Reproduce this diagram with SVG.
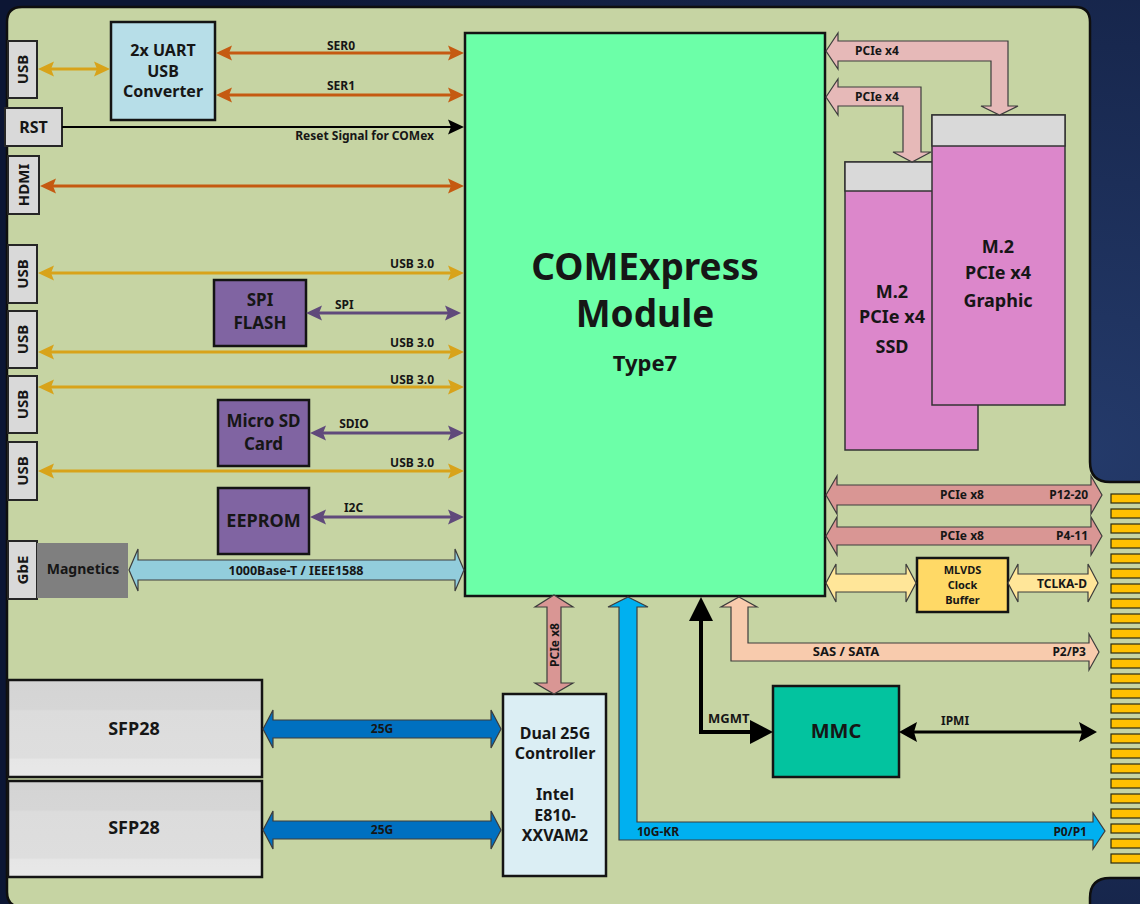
<svg xmlns="http://www.w3.org/2000/svg" width="1140" height="904" viewBox="0 0 1140 904">
<defs>
<style>
text { font-family: "Noto Sans", "Open Sans", "DejaVu Sans", sans-serif; font-weight: bold; fill: #161616; }
.box { stroke: #141414; stroke-width: 2.5; }
.conn { fill: #d9d9d9; stroke: #262626; stroke-width: 2; }
.blk { stroke: #3c3c3c; stroke-width: 1.2; stroke-linejoin: miter; }
.m2 { fill: #dc87cb; stroke: #333; stroke-width: 1.5; }
.m2top { fill: #d9d9d9; stroke: #333; stroke-width: 1.5; }
.pin { fill: #ffc000; stroke: #2b2b10; stroke-width: 1.2; }
.purple { fill: #8064a2; }
.gold { stroke: #d8a31a; stroke-width: 3; fill: none; }
.brown { stroke: #c55a11; stroke-width: 3; fill: none; }
.vio { stroke: #604a7b; stroke-width: 3; fill: none; }
.mid { text-anchor: middle; }
.end { text-anchor: end; }
.s11 { font-size: 11px; }
.s12 { font-size: 12px; }
.s13 { font-size: 13px; }
.s15 { font-size: 15px; }
.s16 { font-size: 16px; }
.s17 { font-size: 17px; }
.s18 { font-size: 18px; }
</style>
<radialGradient id="bg" cx="0.95" cy="0.5" r="0.9">
<stop offset="0" stop-color="#243a6a"/>
<stop offset="1" stop-color="#0c1634"/>
</radialGradient>
<linearGradient id="sfp" x1="0" y1="0" x2="0" y2="1">
<stop offset="0" stop-color="#d4d4d4"/>
<stop offset="0.3" stop-color="#d6d6d6"/>
<stop offset="0.32" stop-color="#dcdcdc"/>
<stop offset="0.8" stop-color="#dedede"/>
<stop offset="0.82" stop-color="#e6e6e6"/>
<stop offset="1" stop-color="#e8e8e8"/>
</linearGradient>
<marker id="aGold" viewBox="0 0 16 16" refX="11" refY="8" markerWidth="16" markerHeight="16" markerUnits="userSpaceOnUse" orient="auto-start-reverse"><path d="M0,0.5 L16,8 L0,15.5 L3,8 z" fill="#d8a31a"/></marker>
<marker id="aBrown" viewBox="0 0 16 16" refX="11" refY="8" markerWidth="16" markerHeight="16" markerUnits="userSpaceOnUse" orient="auto-start-reverse"><path d="M0,0.5 L16,8 L0,15.5 L3,8 z" fill="#c55a11"/></marker>
<marker id="aVio" viewBox="0 0 16 16" refX="11" refY="8" markerWidth="16" markerHeight="16" markerUnits="userSpaceOnUse" orient="auto-start-reverse"><path d="M0,0.5 L16,8 L0,15.5 L3,8 z" fill="#604a7b"/></marker>
<marker id="aBlack" viewBox="0 0 16 16" refX="11" refY="8" markerWidth="16" markerHeight="16" markerUnits="userSpaceOnUse" orient="auto-start-reverse"><path d="M0,0.5 L16,8 L0,15.5 L3,8 z" fill="#000"/></marker>
<marker id="aBlackL" viewBox="0 0 18 20" refX="13" refY="10" markerWidth="18" markerHeight="20" markerUnits="userSpaceOnUse" orient="auto-start-reverse"><path d="M0,0 L18,10 L0,20 L3,10 z" fill="#000"/></marker>
</defs>

<rect width="1140" height="904" fill="url(#bg)"/>
<g id="board">
<path d="M7,22 Q7,7 22,7 H1075 Q1090,7 1090,22 V462 Q1090,482 1110,482 H1143 V878 H1110 Q1090,878 1090,898 V907 H22 Q7,907 7,892 Z" fill="#c6d4a3" stroke="#0e0e0e" stroke-width="2.5"/>
</g>

<g id="edge-pins">
<rect class="pin" x="1111" y="494" width="32" height="9"/>
<rect class="pin" x="1111" y="509" width="32" height="9"/>
<rect class="pin" x="1111" y="524" width="32" height="9"/>
<rect class="pin" x="1111" y="539" width="32" height="9"/>
<rect class="pin" x="1111" y="554" width="32" height="9"/>
<rect class="pin" x="1111" y="569" width="32" height="9"/>
<rect class="pin" x="1111" y="584" width="32" height="9"/>
<rect class="pin" x="1111" y="599" width="32" height="9"/>
<rect class="pin" x="1111" y="614" width="32" height="9"/>
<rect class="pin" x="1111" y="629" width="32" height="9"/>
<rect class="pin" x="1111" y="644" width="32" height="9"/>
<rect class="pin" x="1111" y="659" width="32" height="9"/>
<rect class="pin" x="1111" y="674" width="32" height="9"/>
<rect class="pin" x="1111" y="689" width="32" height="9"/>
<rect class="pin" x="1111" y="704" width="32" height="9"/>
<rect class="pin" x="1111" y="719" width="32" height="9"/>
<rect class="pin" x="1111" y="734" width="32" height="9"/>
<rect class="pin" x="1111" y="749" width="32" height="9"/>
<rect class="pin" x="1111" y="764" width="32" height="9"/>
<rect class="pin" x="1111" y="779" width="32" height="9"/>
<rect class="pin" x="1111" y="794" width="32" height="9"/>
<rect class="pin" x="1111" y="809" width="32" height="9"/>
<rect class="pin" x="1111" y="824" width="32" height="9"/>
<rect class="pin" x="1111" y="839" width="32" height="9"/>
<rect class="pin" x="1111" y="854" width="32" height="9"/>
</g>

<!-- Nodes -->
<g id="usb-1"><rect class="conn" x="8" y="41" width="29" height="57"/><text class="s15 mid" transform="translate(27.5,69.5) rotate(-90)">USB</text></g>
<g id="rst"><rect class="conn" x="5" y="108" width="57" height="38"/><text class="s16 mid" x="33.5" y="133">RST</text></g>
<g id="hdmi"><rect class="conn" x="8" y="156" width="31" height="58"/><text class="s15 mid" transform="translate(29,185) rotate(-90)">HDMI</text></g>
<g id="usb-2"><rect class="conn" x="8" y="245" width="29" height="58"/><text class="s15 mid" transform="translate(27.5,274) rotate(-90)">USB</text></g>
<g id="usb-3"><rect class="conn" x="8" y="311" width="29" height="57"/><text class="s15 mid" transform="translate(27.5,339.5) rotate(-90)">USB</text></g>
<g id="usb-4"><rect class="conn" x="8" y="376" width="29" height="57"/><text class="s15 mid" transform="translate(27.5,404.5) rotate(-90)">USB</text></g>
<g id="usb-5"><rect class="conn" x="8" y="442" width="29" height="58"/><text class="s15 mid" transform="translate(27.5,471) rotate(-90)">USB</text></g>
<g id="gbe"><rect class="conn" x="8" y="541" width="29" height="58"/><text class="s15 mid" transform="translate(27.5,570) rotate(-90)">GbE</text></g>
<g id="magnetics"><rect x="37" y="543" width="91" height="55" fill="#7f7f7f"/><text class="mid" font-size="14" x="83" y="574">Magnetics</text></g>

<g id="uart"><rect class="box" x="111" y="22" width="104" height="98" fill="#b7dee8"/>
<text class="s16 mid" x="163" y="56">2x UART</text><text class="s16 mid" x="163" y="76.5">USB</text><text class="s16 mid" x="163" y="97">Converter</text></g>

<g id="spi-flash"><rect class="box purple" x="214" y="280" width="92" height="66"/>
<text class="s17 mid" x="260" y="306">SPI</text><text class="s17 mid" x="260" y="329">FLASH</text></g>
<g id="micro-sd"><rect class="box purple" x="218" y="400" width="91" height="66"/>
<text class="s17 mid" x="263.5" y="427">Micro SD</text><text class="s17 mid" x="263.5" y="450">Card</text></g>
<g id="eeprom"><rect class="box purple" x="218" y="488" width="91" height="66"/>
<text class="s18 mid" x="263.5" y="527">EEPROM</text></g>

<g id="comexpress"><rect class="box" x="465" y="33" width="360" height="563" fill="#6cffa8"/>
<text class="mid" font-size="37" x="645" y="280">COMExpress</text>
<text class="mid" font-size="37" x="645" y="327">Module</text>
<text class="mid" font-size="22" x="645" y="371">Type7</text></g>

<g id="m2-ssd"><rect class="m2" x="845" y="162" width="133" height="288"/><rect class="m2top" x="845" y="162" width="133" height="29"/>
<text class="s18 mid" x="892" y="298">M.2</text><text class="s18 mid" x="892" y="323">PCIe x4</text><text class="s18 mid" x="892" y="353">SSD</text></g>
<g id="m2-graphic"><rect class="m2" x="932" y="115" width="133" height="290"/><rect class="m2top" x="932" y="115" width="133" height="31"/>
<text class="s18 mid" x="998" y="253">M.2</text><text class="s18 mid" x="998" y="279">PCIe x4</text><text class="s18 mid" x="998" y="307">Graphic</text></g>

<g id="mlvds"><rect class="box" x="917" y="558" width="91" height="54" fill="#ffd966"/>
<text class="s11 mid" x="962.5" y="573.5">MLVDS</text><text class="s11 mid" x="962.5" y="589">Clock</text><text class="s11 mid" x="962.5" y="604">Buffer</text></g>

<g id="mmc"><rect class="box" x="773" y="686" width="126" height="91" fill="#03c39f"/>
<text class="mid" font-size="20" x="836" y="738">MMC</text></g>

<g id="dual25g"><rect class="box" x="503" y="694" width="103" height="182" fill="#dbeef4"/>
<text class="s16 mid" x="555" y="739">Dual 25G</text><text class="s16 mid" x="555" y="759">Controller</text>
<text class="s16 mid" x="555" y="800">Intel</text><text class="s16 mid" x="555" y="821">E810-</text><text class="s16 mid" x="555" y="841">XXVAM2</text></g>

<g id="sfp28-1"><rect x="8" y="680" width="254" height="97" fill="url(#sfp)" stroke="#141414" stroke-width="2.5"/><text class="s18 mid" x="134" y="735">SFP28</text></g>
<g id="sfp28-2"><rect x="8" y="781" width="254" height="96" fill="url(#sfp)" stroke="#141414" stroke-width="2.5"/><text class="s18 mid" x="134" y="834">SFP28</text></g>

<!-- Connectors -->
<g id="connectors">
<line class="gold" x1="43" y1="69" x2="105" y2="69" marker-start="url(#aGold)" marker-end="url(#aGold)"/>
<line class="brown" x1="221" y1="53" x2="459" y2="53" marker-start="url(#aBrown)" marker-end="url(#aBrown)"/>
<line class="brown" x1="221" y1="95" x2="459" y2="95" marker-start="url(#aBrown)" marker-end="url(#aBrown)"/>
<line x1="62" y1="127" x2="459" y2="127" stroke="#000" stroke-width="2" marker-end="url(#aBlack)"/>
<line class="brown" x1="45" y1="186" x2="459" y2="186" marker-start="url(#aBrown)" marker-end="url(#aBrown)"/>
<line class="gold" x1="43" y1="273" x2="459" y2="273" marker-start="url(#aGold)" marker-end="url(#aGold)"/>
<line class="vio" x1="311" y1="313" x2="456" y2="313" marker-start="url(#aVio)" marker-end="url(#aVio)"/>
<line class="gold" x1="43" y1="352" x2="459" y2="352" marker-start="url(#aGold)" marker-end="url(#aGold)"/>
<line class="gold" x1="43" y1="387" x2="459" y2="387" marker-start="url(#aGold)" marker-end="url(#aGold)"/>
<line class="vio" x1="315" y1="433" x2="459" y2="433" marker-start="url(#aVio)" marker-end="url(#aVio)"/>
<line class="gold" x1="43" y1="471" x2="459" y2="471" marker-start="url(#aGold)" marker-end="url(#aGold)"/>
<line class="vio" x1="315" y1="517" x2="459" y2="517" marker-start="url(#aVio)" marker-end="url(#aVio)"/>
<polygon class="blk" fill="#92cddc" points="129,570 138,549 138,560 455,560 455,549 464,570 455,591 455,580 138,580 138,591"/>

<polygon class="blk" fill="#e6b9b8" points="826,51 838,33 838,41 1008,41 1008,106 1018,106 999.5,115 981,106 991,106 991,61 838,61 838,69"/>
<polygon class="blk" fill="#e6b9b8" points="826,97 838,79 838,87 921,87 921,152 931,152 912,162 893,152 903,152 903,106 838,106 838,115"/>

<polygon class="blk" fill="#d99694" points="826,495 837,476 837,485 1091,485 1091,476 1102,495 1091,514 1091,505 837,505 837,514"/>
<polygon class="blk" fill="#d99694" points="826,536 837,517 837,527 1091,527 1091,517 1102,536 1091,555 1091,545 837,545 837,555"/>
<polygon class="blk" fill="#ffe699" points="826,583 836,564 836,574 906,574 906,564 916,583 906,602 906,592 836,592 836,602"/>
<polygon class="blk" fill="#ffe699" points="1008,583 1018,564 1018,574 1088,574 1088,564 1098,583 1088,602 1088,592 1018,592 1018,602"/>
<polygon class="blk" fill="#f8cbad" points="739,597 757,607 748,607 748,643 1089,643 1089,634 1099,652 1089,670 1089,661 731,661 731,607 721,607"/>

<polygon class="blk" fill="#d99694" points="554,595 573,607 561,607 561,683 573,683 554,694 535,683 547,683 547,607 535,607"/>
<polygon class="blk" fill="#00b0f0" points="628,597 648,607 637,607 637,822 1093,822 1093,813 1105,831 1093,849 1093,840 619,840 619,607 608,607"/>

<polygon class="blk" fill="#0070c0" points="263,729 273,710 273,720 491,720 491,710 501,729 491,748 491,738 273,738 273,748"/>
<polygon class="blk" fill="#0070c0" points="263,830 273,811 273,821 491,821 491,811 501,830 491,849 491,839 273,839 273,849"/>

<path d="M701,616 V732 H754" fill="none" stroke="#000" stroke-width="4"/>
<polygon points="701,597 713,621 689,621" fill="#000"/>
<polygon points="773,732 750,720 750,744" fill="#000"/>
<line x1="904" y1="732" x2="1092" y2="732" stroke="#000" stroke-width="3" marker-start="url(#aBlackL)" marker-end="url(#aBlackL)"/>

<text class="s12 mid" x="341" y="50">SER0</text>
<text class="s12 mid" x="341" y="90">SER1</text>
<text class="s12 end" x="434" y="140">Reset Signal for COMex</text>
<text class="s12 end" x="434" y="268">USB 3.0</text>
<text class="s12" x="335" y="309">SPI</text>
<text class="s12 end" x="434" y="347">USB 3.0</text>
<text class="s12 end" x="434" y="384">USB 3.0</text>
<text class="s12 mid" x="354" y="428">SDIO</text>
<text class="s12 end" x="434" y="467">USB 3.0</text>
<text class="s12 mid" x="353.5" y="512">I2C</text>
<text class="mid" font-size="12.5" x="296" y="575">1000Base-T / IEEE1588</text>
<text class="s12" x="855" y="55">PCIe x4</text>
<text class="s12" x="855" y="101">PCIe x4</text>
<text class="s12 mid" x="962" y="499">PCIe x8</text>
<text class="s12 end" x="1088" y="499">P12-20</text>
<text class="s12 mid" x="962" y="540">PCIe x8</text>
<text class="s12 end" x="1088" y="540">P4-11</text>
<text class="s12 end" x="1087" y="588">TCLKA-D</text>
<text class="s13 mid" x="846" y="656">SAS / SATA</text>
<text class="s12 end" x="1086" y="656">P2/P3</text>
<text class="s12 mid" transform="translate(558.5,645) rotate(-90)">PCIe x8</text>
<text class="s13" x="708" y="723">MGMT</text>
<text class="s12" x="941" y="725">IPMI</text>
<text class="s12" x="637" y="836">10G-KR</text>
<text class="s12 end" x="1087" y="836">P0/P1</text>
<text class="s12 mid" x="382" y="733">25G</text>
<text class="s12 mid" x="382" y="834">25G</text>
</g>
</svg>
